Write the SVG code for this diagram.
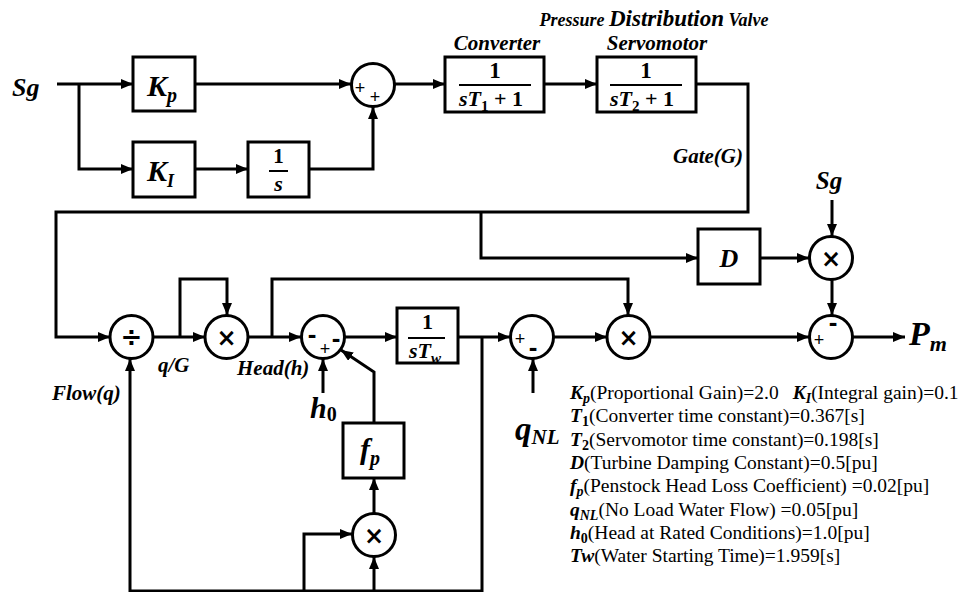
<svg xmlns="http://www.w3.org/2000/svg" width="960" height="592" viewBox="0 0 960 592">
<style>
.blk{fill:#fff;stroke:#000;stroke-width:3}
.cir{fill:#fff;stroke:#000;stroke-width:3}
.ln{fill:none;stroke:#000;stroke-width:3;stroke-linejoin:miter}
.arr{marker-end:url(#ah)}
.t{font-family:"Liberation Serif","Times New Roman",serif;fill:#000}
.bi{font-weight:bold;font-style:italic}
.b{font-weight:bold}
.lab{font-family:"Liberation Serif","Times New Roman",serif;font-weight:bold;font-style:italic;font-size:21px}
.op{font-family:"DejaVu Sans","Liberation Sans",sans-serif;font-weight:bold;text-anchor:middle}
.mn{font-family:"Liberation Sans",sans-serif;font-weight:bold;text-anchor:middle;font-size:26px}
.sg{font-family:"Liberation Sans",sans-serif;font-size:18px;text-anchor:middle}
.leg{font-family:"Liberation Serif","Times New Roman",serif;font-size:19.5px}
</style>
<defs>
<marker id="ah" markerWidth="12" markerHeight="10" refX="12" refY="5" orient="auto" markerUnits="userSpaceOnUse"><path d="M0,0 L12,5 L0,10 z" fill="#000"/></marker>
</defs>
<rect width="960" height="592" fill="#fff"/>

<g id="connectors">
<path class="ln arr" d="M57,84 H133"/>
<path class="ln arr" d="M79,84 V169 H133"/>
<path class="ln arr" d="M195,84 H351"/>
<path class="ln arr" d="M195,169 H248"/>
<path class="ln arr" d="M309,169 H373 V107"/>
<path class="ln arr" d="M395,84 H445"/>
<path class="ln arr" d="M544,84 H597"/>
<path class="ln arr" d="M696,84 H748 V212 H56 V337 H110"/>
<path class="ln arr" d="M481,212 V258 H698"/>
<path class="ln arr" d="M832,200 V236"/>
<path class="ln arr" d="M760,258 H809"/>
<path class="ln arr" d="M832,280 V315"/>
<path class="ln arr" d="M153,337 H205"/>
<path class="ln arr" d="M180,337 V279 H227 V315"/>
<path class="ln arr" d="M248,337 H301"/>
<path class="ln arr" d="M272,337 V279 H628 V315"/>
<path class="ln arr" d="M345,337 H397"/>
<path class="ln arr" d="M458,337 H510"/>
<path class="ln arr" d="M482,337 V591 H130 V359"/>
<path class="ln arr" d="M304,591 V534 H352"/>
<path class="ln arr" d="M374,591 V557"/>
<path class="ln arr" d="M374,513 V478"/>
<path class="ln arr" d="M374,423 V372 L341,350"/>
<path class="ln arr" d="M323,393 V359"/>
<path class="ln arr" d="M533,393 V359"/>
<path class="ln arr" d="M554,337 H607"/>
<path class="ln arr" d="M650,337 H809"/>
<path class="ln arr" d="M853,337 H905"/>
</g>

<g id="sg-in"><text class="t bi" x="12" y="96" font-size="26">Sg</text></g>

<g id="kp">
<rect class="blk" x="133" y="57" width="62" height="54"/>
<text class="t bi" x="147" y="96" font-size="30">K<tspan font-size="20" dy="6">p</tspan></text>
</g>

<g id="ki">
<rect class="blk" x="133" y="142" width="62" height="55"/>
<text class="t bi" x="147" y="181" font-size="30">K<tspan font-size="18" dy="6">I</tspan></text>
</g>

<g id="integ">
<rect class="blk" x="248" y="142" width="61" height="55"/>
<text class="t b" x="278.5" y="163" font-size="21" text-anchor="middle">1</text>
<line x1="269" y1="171" x2="288" y2="171" stroke="#000" stroke-width="2"/>
<text class="t bi" x="278.5" y="191" font-size="22" text-anchor="middle">s</text>
</g>

<g id="sum1">
<circle class="cir" cx="373" cy="85" r="21.5"/>
<text class="sg" x="360" y="94">+</text>
<text class="sg" x="375" y="103">+</text>
</g>

<g id="converter">
<text class="lab" x="497" y="50" text-anchor="middle">Converter</text>
<rect class="blk" x="445" y="57" width="99" height="55"/>
<text class="t b" x="495" y="78" font-size="23" text-anchor="middle">1</text>
<line x1="459" y1="85" x2="531" y2="85" stroke="#000" stroke-width="2"/>
<text class="t b" x="459" y="106" font-size="22"><tspan font-style="italic">sT</tspan><tspan font-size="15" dy="5">1</tspan><tspan dy="-5"> + 1</tspan></text>
</g>

<g id="servo">
<text class="t bi" x="654" y="26" text-anchor="middle"><tspan font-size="18">Pressure </tspan><tspan font-size="23">Distribution</tspan><tspan font-size="18"> Valve</tspan></text>
<text class="lab" x="657" y="50" text-anchor="middle">Servomotor</text>
<rect class="blk" x="597" y="57" width="99" height="55"/>
<text class="t b" x="646" y="78" font-size="23" text-anchor="middle">1</text>
<line x1="610" y1="85" x2="682" y2="85" stroke="#000" stroke-width="2"/>
<text class="t b" x="610" y="106" font-size="22"><tspan font-style="italic">sT</tspan><tspan font-size="15" dy="5">2</tspan><tspan dy="-5"> + 1</tspan></text>
</g>

<g id="gate-label"><text class="lab" x="743" y="163" text-anchor="end">Gate(G)</text></g>

<g id="damping">
<rect class="blk" x="698" y="229" width="62" height="55"/>
<text class="t bi" x="729" y="267" font-size="26" text-anchor="middle">D</text>
</g>

<g id="sg-mult">
<text class="t bi" x="829" y="189" font-size="25" text-anchor="middle">Sg</text>
<circle class="cir" cx="831" cy="258" r="21.5"/>
<text class="op" x="831" y="267" font-size="24">×</text>
</g>

<g id="divide">
<circle class="cir" cx="131.5" cy="337" r="21.5"/>
<text class="op" x="131.5" y="346" font-size="26">÷</text>
<text class="lab" x="52" y="400">Flow(q)</text>
</g>

<g id="mult1">
<circle class="cir" cx="226.5" cy="337" r="21.5"/>
<text class="op" x="226.5" y="346" font-size="24">×</text>
<text class="lab" x="158" y="372">q/G</text>
<text class="lab" x="237" y="375">Head(h)</text>
</g>

<g id="sum2">
<circle class="cir" cx="323" cy="337" r="21.5"/>
<text class="mn" x="312" y="343">-</text>
<text class="sg" x="325" y="355">+</text>
<text class="mn" x="336" y="347">-</text>
</g>

<g id="h0">
<text class="t bi" x="310" y="418" font-size="30">h<tspan font-style="normal" font-size="20" dy="3">0</tspan></text>
</g>

<g id="penstock">
<rect class="blk" x="343" y="423" width="61" height="55"/>
<text class="t bi" x="360" y="459" font-size="30">f<tspan font-size="20" dy="6">p</tspan></text>
</g>

<g id="mult3">
<circle class="cir" cx="374" cy="535" r="21.5"/>
<text class="op" x="374" y="544" font-size="24">×</text>
</g>

<g id="tw">
<rect class="blk" x="397" y="308" width="61" height="55"/>
<text class="t b" x="427.5" y="329" font-size="22" text-anchor="middle">1</text>
<line x1="408" y1="338" x2="445" y2="338" stroke="#000" stroke-width="2"/>
<text class="t bi" x="409" y="358" font-size="22">sT<tspan font-size="15" dy="5">w</tspan></text>
</g>

<g id="sum3">
<circle class="cir" cx="532" cy="337" r="21.5"/>
<text class="sg" x="520" y="345">+</text>
<text class="mn" x="533" y="356">-</text>
<text class="t bi" x="515" y="440" font-size="33">q<tspan font-size="21" dy="4">NL</tspan></text>
</g>

<g id="mult2">
<circle class="cir" cx="628.5" cy="337" r="21.5"/>
<text class="op" x="628.5" y="346" font-size="24">×</text>
</g>

<g id="sum4">
<circle class="cir" cx="831" cy="337" r="21.5"/>
<text class="sg" x="819" y="346">+</text>
<text class="mn" x="833" y="331">-</text>
</g>

<g id="pm"><text class="t bi" x="909" y="345" font-size="34">P<tspan font-size="22" dy="6">m</tspan></text></g>

<g id="legend" class="leg">
<text x="570" y="399"><tspan class="bi">K<tspan font-size="14" dy="4">p</tspan></tspan><tspan dy="-4">(Proportional Gain)=2.0</tspan><tspan class="bi" dx="14">K<tspan font-size="14" dy="4">I</tspan></tspan><tspan dy="-4">(Integral gain)=0.1</tspan></text>
<text x="570" y="422"><tspan class="bi">T</tspan><tspan class="b" font-size="14" dy="4">1</tspan><tspan dy="-4">(Converter time constant)=0.367[s]</tspan></text>
<text x="570" y="446"><tspan class="bi">T</tspan><tspan class="b" font-size="14" dy="4">2</tspan><tspan dy="-4">(Servomotor time constant)=0.198[s]</tspan></text>
<text x="570" y="469"><tspan class="bi">D</tspan>(Turbine Damping Constant)=0.5[pu]</text>
<text x="570" y="492"><tspan class="bi">f<tspan font-size="14" dy="4">p</tspan></tspan><tspan dy="-4">(Penstock Head Loss Coefficient) =0.02[pu]</tspan></text>
<text x="570" y="516"><tspan class="bi">q<tspan font-size="14" dy="4">NL</tspan></tspan><tspan dy="-4">(No Load Water Flow) =0.05[pu]</tspan></text>
<text x="570" y="539"><tspan class="bi">h</tspan><tspan class="b" font-size="14" dy="4">0</tspan><tspan dy="-4">(Head at Rated Conditions)=1.0[pu]</tspan></text>
<text x="570" y="562"><tspan class="bi">Tw</tspan>(Water Starting Time)=1.959[s]</text>
</g>
</svg>
